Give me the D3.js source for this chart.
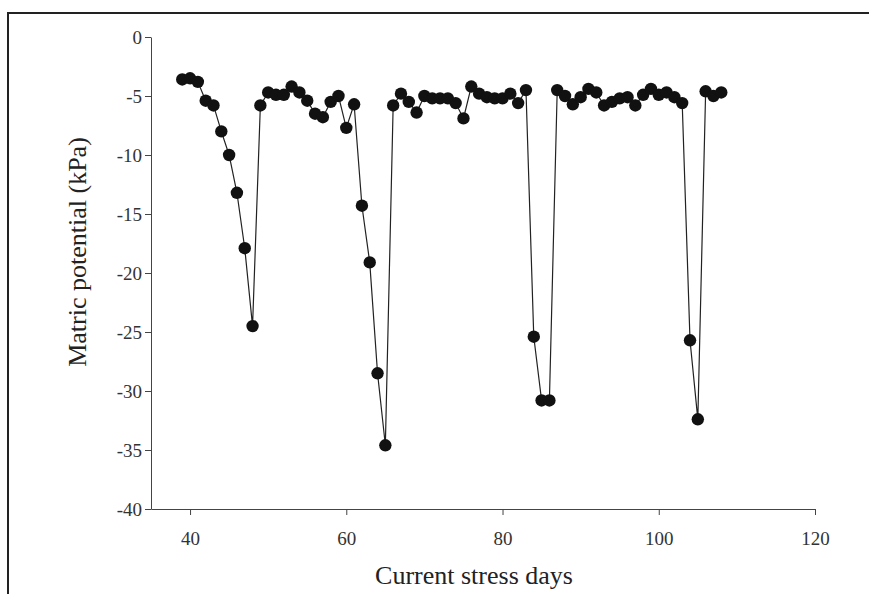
<!DOCTYPE html>
<html>
<head>
<meta charset="utf-8">
<script src="https://cdn.jsdelivr.net/npm/d3@7"></script>
<style>
    body { margin: 0; background: #fff; }
    svg { display: block; }
    .tick text { font-family: "Liberation Serif", "Times New Roman", serif; font-size: 19px; fill: #333; }
    .domain, .tick line { stroke: #444; }
    .title { font-family: "Liberation Serif", "Times New Roman", serif; font-size: 26px; fill: #222; }
</style>
</head>
<body>
<svg id="chart" width="869" height="594"></svg>
<script>
// Soil matric potential vs day
const days = [39, 40, 41, 42, 43, 44, 45, 46, 47, 48, 49, 50, 51, 52, 53, 54, 55, 56, 57, 58,
    59, 60, 61, 62, 63, 64, 65, 66, 67, 68, 69, 70, 71, 72, 73, 74, 75, 76, 77, 78,
    79, 80, 81, 82, 83, 84, 85, 86, 87, 88, 89, 90, 91, 92, 93, 94, 95, 96, 97, 98,
    99, 100, 101, 102, 103, 104, 105, 106, 107, 108];
const potential = [-3.6, -3.5, -3.8, -5.4, -5.8, -8.0, -10.0, -13.2, -17.9, -24.5, -5.8, -4.7, -4.9, -4.9, -4.2, -4.7, -5.4, -6.5, -6.8, -5.5,
    -5.0, -7.7, -5.7, -14.3, -19.1, -28.5, -34.6, -5.8, -4.8, -5.5, -6.4, -5.0, -5.2, -5.2, -5.2, -5.6, -6.9, -4.2, -4.8, -5.1,
    -5.2, -5.2, -4.8, -5.6, -4.5, -25.4, -30.8, -30.8, -4.5, -5.0, -5.7, -5.1, -4.4, -4.7, -5.8, -5.5, -5.2, -5.1, -5.8, -4.9,
    -4.4, -4.9, -4.7, -5.1, -5.6, -25.7, -32.4, -4.6, -5.0, -4.7];
const xTicks = [40, 60, 80, 100, 120];
const yTicks = [0, -5, -10, -15, -20, -25, -30, -35, -40];

const svg = d3.select("#chart");

// outer frame (only top and left edges show)
svg.append("path")
    .attr("d", "M8,594 L8,13 L869,13")
    .attr("fill", "none")
    .attr("stroke", "#222")
    .attr("stroke-width", 2);

const x = d3.scaleLinear().domain([35, 120]).range([151, 815]);
const y = d3.scaleLinear().domain([-40, 0]).range([509, 37]);

svg.append("g")
    .attr("transform", "translate(0,509)")
    .call(d3.axisBottom(x).tickValues(xTicks).tickSize(6).tickSizeOuter(0).tickFormat(d => String(d)))
    .call(g => g.selectAll(".tick text").attr("y", 36).attr("dy", 0));

// plain hyphen for negatives, like the original
svg.append("g")
    .attr("transform", "translate(151,0)")
    .call(d3.axisLeft(y).tickValues(yTicks).tickSize(6).tickSizeOuter(0).tickPadding(3).tickFormat(d => String(d)));

const points = days.map((d, i) => ({ day: d, value: potential[i] }));

svg.append("path")
    .datum(points)
    .attr("fill", "none")
    .attr("stroke", "#222")
    .attr("stroke-width", 1.2)
    .attr("d", d3.line().x(d => x(d.day)).y(d => y(d.value)));

svg.selectAll(".dot")
    .data(points)
    .join("circle")
    .attr("class", "dot")
    .attr("cx", d => x(d.day))
    .attr("cy", d => y(d.value))
    .attr("r", 6.2)
    .attr("fill", "#111");

svg.append("text")
    .attr("class", "title")
    .attr("x", 474)
    .attr("y", 584)
    .attr("text-anchor", "middle")
    .text("Current stress days");

svg.append("text")
    .attr("class", "title")
    .attr("transform", "translate(86,252) rotate(-90)")
    .attr("text-anchor", "middle")
    .text("Matric potential (kPa)");
</script>
</body>
</html>
